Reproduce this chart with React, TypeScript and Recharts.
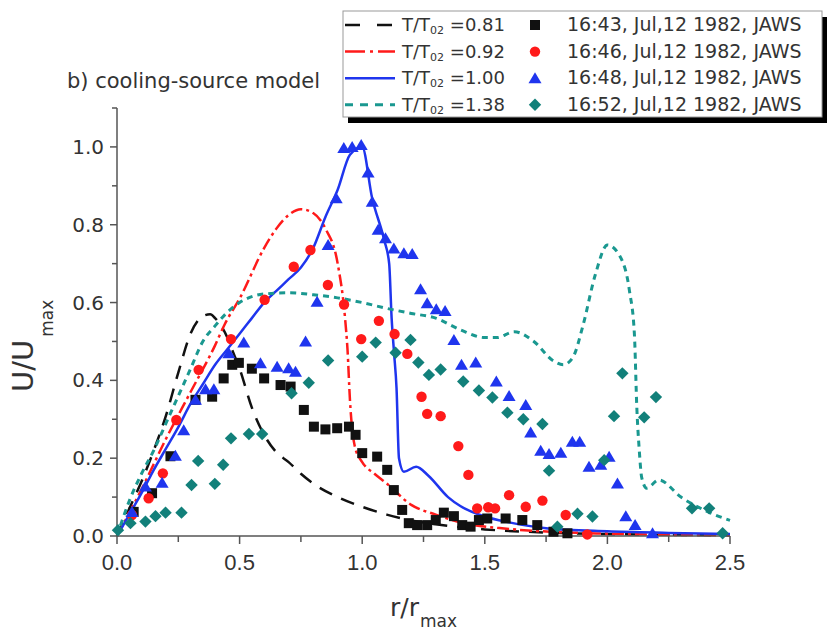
import { ComposedChart, Line, Scatter, XAxis, YAxis } from 'recharts'

const FONT = '"DejaVu Sans", Arial, sans-serif'
const ARIAL = '"Liberation Sans", Arial, sans-serif'
const INK = '#333'

// model curves U/Umax vs r/rmax, one per T/T02
const r081 = [0, 0.05, 0.1, 0.15, 0.2, 0.25, 0.3, 0.35, 0.38, 0.4, 0.45, 0.47, 0.5, 0.55, 0.6, 0.65, 0.7, 0.75, 0.8, 0.9, 1.0, 1.1, 1.2, 1.3, 1.5, 1.75, 2.0, 2.25, 2.5]
const u081 = [0, 0.07, 0.14, 0.22, 0.31, 0.42, 0.52, 0.565, 0.57, 0.56, 0.51, 0.478, 0.43, 0.33, 0.26, 0.215, 0.19, 0.16, 0.135, 0.1, 0.075, 0.055, 0.04, 0.03, 0.017, 0.009, 0.005, 0.003, 0.002]

const r092 = [0, 0.1, 0.2, 0.3, 0.4, 0.44, 0.5, 0.6, 0.65, 0.7, 0.75, 0.8, 0.85, 0.9, 0.93, 0.94, 0.95, 0.97, 1.0, 1.05, 1.1, 1.2, 1.3, 1.4, 1.6, 1.8, 2.0, 2.25, 2.5]
const u092 = [0, 0.12, 0.25, 0.37, 0.49, 0.545, 0.61, 0.74, 0.79, 0.825, 0.84, 0.83, 0.79, 0.7, 0.56, 0.48, 0.35, 0.23, 0.19, 0.16, 0.135, 0.08, 0.055, 0.035, 0.018, 0.01, 0.006, 0.003, 0.002]

const r100 = [0, 0.05, 0.1, 0.15, 0.2, 0.25, 0.3, 0.35, 0.4, 0.45, 0.5, 0.55, 0.6, 0.65, 0.7, 0.75, 0.8, 0.85, 0.9, 0.95, 1.0, 1.04, 1.09, 1.11, 1.12, 1.13, 1.14, 1.15, 1.17, 1.22, 1.27, 1.35, 1.4, 1.5, 1.6, 1.75, 2.0, 2.25, 2.5]
const u100 = [0, 0.055, 0.11, 0.17, 0.225, 0.28, 0.34, 0.39, 0.44, 0.48, 0.52, 0.56, 0.6, 0.63, 0.66, 0.69, 0.74, 0.82, 0.89, 0.98, 1.0, 0.87, 0.76, 0.7, 0.56, 0.47, 0.38, 0.2, 0.165, 0.178, 0.155, 0.1, 0.077, 0.05, 0.035, 0.02, 0.012, 0.008, 0.005]

const r138 = [0, 0.05, 0.1, 0.15, 0.2, 0.25, 0.3, 0.35, 0.4, 0.45, 0.5, 0.6, 0.7, 0.8, 0.9, 1.0, 1.1, 1.2, 1.3, 1.4, 1.5, 1.55, 1.62, 1.7, 1.78, 1.82, 1.86, 1.9, 1.95, 2.0, 2.05, 2.09, 2.11, 2.12, 2.13, 2.14, 2.16, 2.21, 2.3, 2.4, 2.5]
const u138 = [0, 0.09, 0.16, 0.22, 0.29, 0.36, 0.43, 0.5, 0.54, 0.575, 0.6, 0.622, 0.625, 0.62, 0.612, 0.6, 0.585, 0.572, 0.56, 0.53, 0.51, 0.51, 0.525, 0.5, 0.45, 0.44, 0.46, 0.54, 0.67, 0.748, 0.72, 0.63, 0.52, 0.33, 0.22, 0.15, 0.123, 0.144, 0.1, 0.065, 0.04]

// JAWS observations, Jul 12 1982
const r1643 = [0.068, 0.143, 0.218, 0.32, 0.388, 0.435, 0.47, 0.497, 0.55, 0.6, 0.667, 0.708, 0.762, 0.803, 0.85, 0.898, 0.946, 0.973, 1.0, 1.061, 1.102, 1.129, 1.163, 1.19, 1.224, 1.265, 1.3, 1.333, 1.374, 1.408, 1.442, 1.476, 1.51, 1.585, 1.653, 1.714, 1.78, 1.837]
const u1643 = [0.062, 0.11, 0.205, 0.35, 0.358, 0.405, 0.44, 0.445, 0.43, 0.405, 0.388, 0.384, 0.324, 0.281, 0.274, 0.277, 0.281, 0.26, 0.213, 0.204, 0.17, 0.118, 0.067, 0.033, 0.028, 0.028, 0.041, 0.06, 0.051, 0.028, 0.024, 0.041, 0.045, 0.045, 0.041, 0.028, 0.011, 0.007]

const r1646 = [0.061, 0.129, 0.187, 0.242, 0.333, 0.465, 0.602, 0.721, 0.789, 0.86, 0.926, 0.996, 1.068, 1.132, 1.184, 1.242, 1.265, 1.32, 1.392, 1.433, 1.469, 1.514, 1.542, 1.599, 1.667, 1.735, 1.83, 1.918]
const u1646 = [0.054, 0.097, 0.161, 0.298, 0.427, 0.506, 0.607, 0.692, 0.735, 0.645, 0.595, 0.506, 0.553, 0.519, 0.468, 0.358, 0.314, 0.308, 0.231, 0.157, 0.071, 0.074, 0.071, 0.105, 0.075, 0.091, 0.054, 0.004]

const r1648 = [0.061, 0.116, 0.184, 0.238, 0.272, 0.32, 0.361, 0.395, 0.456, 0.517, 0.585, 0.653, 0.7, 0.728, 0.769, 0.816, 0.861, 0.894, 0.925, 0.959, 0.996, 1.024, 1.041, 1.065, 1.095, 1.129, 1.17, 1.204, 1.238, 1.265, 1.302, 1.338, 1.374, 1.405, 1.463, 1.547, 1.599, 1.667, 1.687, 1.728, 1.762, 1.81, 1.857, 1.887, 1.925, 1.973, 2.007, 2.041, 2.075, 2.113, 2.184]
const u1648 = [0.062, 0.127, 0.137, 0.206, 0.272, 0.35, 0.377, 0.377, 0.47, 0.497, 0.444, 0.435, 0.431, 0.422, 0.5, 0.602, 0.748, 0.868, 0.997, 1.0, 1.005, 0.934, 0.859, 0.787, 0.765, 0.739, 0.727, 0.725, 0.634, 0.598, 0.583, 0.578, 0.504, 0.44, 0.446, 0.397, 0.36, 0.337, 0.266, 0.219, 0.211, 0.214, 0.242, 0.242, 0.178, 0.183, 0.204, 0.135, 0.051, 0.028, 0.007]

const r1652 = [0.004, 0.055, 0.116, 0.157, 0.198, 0.263, 0.304, 0.331, 0.399, 0.433, 0.465, 0.538, 0.592, 0.712, 0.782, 0.861, 1.0, 1.055, 1.136, 1.197, 1.229, 1.272, 1.32, 1.412, 1.476, 1.531, 1.592, 1.657, 1.735, 1.762, 1.796, 1.878, 1.939, 1.987, 2.027, 2.061, 2.15, 2.198, 2.345, 2.415, 2.47]
const u1652 = [0.015, 0.033, 0.037, 0.051, 0.06, 0.06, 0.131, 0.193, 0.134, 0.183, 0.251, 0.262, 0.262, 0.367, 0.394, 0.451, 0.461, 0.497, 0.471, 0.504, 0.446, 0.414, 0.428, 0.397, 0.374, 0.356, 0.317, 0.3, 0.288, 0.168, 0.024, 0.057, 0.05, 0.195, 0.308, 0.418, 0.305, 0.357, 0.071, 0.071, 0.007]

const xTicks = [0, 0.25, 0.5, 0.75, 1.0, 1.25, 1.5, 1.75, 2.0, 2.25, 2.5]
const yTicks = [0, 0.1, 0.2, 0.3, 0.4, 0.5, 0.6, 0.7, 0.8, 0.9, 1.0, 1.1]

const zip = (xs: number[], ys: number[]) => xs.map((x, i) => ({ x, y: ys[i] }))

const COLORS = {
    black: '#111111',
    red: '#ff1a1a',
    blue: '#1f35ee',
    teal: '#1a9890',
    tealMark: '#12807a',
}

const Square = ({ cx, cy, fill }: any) => <rect x={cx - 5} y={cy - 5} width={10} height={10} fill={fill} />
const Dot = ({ cx, cy, fill }: any) => <circle cx={cx} cy={cy} r={5.2} fill={fill} />
const Tri = ({ cx, cy, fill }: any) => (
    <polygon points={`${cx},${cy - 6} ${cx - 6.5},${cy + 5} ${cx + 6.5},${cy + 5}`} fill={fill} />
)
const Diamond = ({ cx, cy, fill }: any) => (
    <polygon points={`${cx},${cy - 6.2} ${cx + 6.2},${cy} ${cx},${cy + 6.2} ${cx - 6.2},${cy}`} fill={fill} />
)

const series = [
    { ratio: '0.81', time: '16:43, Jul,12 1982, JAWS', line: zip(r081, u081), pts: zip(r1643, u1643), color: COLORS.black, mark: COLORS.black, dash: '14 10', lgDash: '15 17', width: 2.5, Shape: Square },
    { ratio: '0.92', time: '16:46, Jul,12 1982, JAWS', line: zip(r092, u092), pts: zip(r1646, u1646), color: COLORS.red, mark: COLORS.red, dash: '12 4 3 4', lgDash: '20 5 3 5', width: 2.5, Shape: Dot },
    { ratio: '1.00', time: '16:48, Jul,12 1982, JAWS', line: zip(r100, u100), pts: zip(r1648, u1648), color: COLORS.blue, mark: COLORS.blue, dash: undefined, lgDash: undefined, width: 2.5, Shape: Tri },
    { ratio: '1.38', time: '16:52, Jul,12 1982, JAWS', line: zip(r138, u138), pts: zip(r1652, u1652), color: COLORS.teal, mark: COLORS.tealMark, dash: '6 5', lgDash: '8 7', width: 3, Shape: Diamond },
]

const YTick = ({ x, y, payload }: any) => {
    const v = payload.value
    const major = Math.round(v * 10) % 2 === 0 && v <= 1.0001
    return (
        <g>
            <line x1={x - (major ? 7 : 5)} x2={x} y1={y} y2={y} stroke="#555" strokeWidth={1.5} />
            {major && (
                <text x={x - 13} y={y + 7} textAnchor="end" fontSize={20} fontFamily={FONT} fill={INK}>
                    {v.toFixed(1)}
                </text>
            )}
        </g>
    )
}

const XTick = ({ x, y, payload }: any) => {
    const v = payload.value
    const major = Math.round(v * 100) % 50 === 0
    return (
        <g>
            <line x1={x} x2={x} y1={y} y2={y + (major ? 8 : 6)} stroke="#555" strokeWidth={1.5} />
            {major && (
                <text x={x} y={y + 34} textAnchor="middle" fontSize={22} fontFamily={ARIAL} fill={INK}>
                    {v.toFixed(1)}
                </text>
            )}
        </g>
    )
}

function LegendBox() {
    const left = 343, top = 11, w = 479, h = 106
    return (
        <g fontFamily={FONT} fill={INK}>
            <rect x={left + 5} y={top + 6} width={w} height={h} fill="#000" />
            <rect x={left} y={top} width={w} height={h} fill="#fff" stroke="#999" strokeWidth={1} />
            {series.map((s, i) => {
                const base = 31 + i * 26.6
                const cy = base - 6
                const { Shape } = s
                return (
                    <g key={s.ratio}>
                        <line x1={345} x2={395} y1={cy} y2={cy} stroke={s.color} strokeWidth={s.width} strokeDasharray={s.lgDash} />
                        <text x={402} y={base} fontSize={18}>
                            T/T<tspan fontSize={11} dy={3}>02</tspan><tspan dy={-3}> ={s.ratio}</tspan>
                        </text>
                        <Shape cx={535} cy={cy} fill={s.mark} />
                        <text x={567} y={base} fontSize={19}>{s.time}</text>
                    </g>
                )
            })}
        </g>
    )
}

export default function App() {
    return (
        <div style={{ position: 'absolute', left: 0, top: 0, width: 828, height: 634, background: '#fff' }}>
            <ComposedChart width={828} height={634} margin={{ top: 108, right: 98, bottom: 48, left: 57 }}>
                <XAxis
                    dataKey="x"
                    type="number"
                    domain={[0, 2.5]}
                    ticks={xTicks}
                    interval={0}
                    height={50}
                    tickSize={0}
                    tickMargin={0}
                    tickLine={false}
                    axisLine={{ stroke: '#555', strokeWidth: 1.5 }}
                    tick={<XTick />}
                />
                <YAxis
                    dataKey="y"
                    type="number"
                    domain={[0, 1.1]}
                    ticks={yTicks}
                    interval={0}
                    width={60}
                    tickSize={0}
                    tickMargin={0}
                    tickLine={false}
                    axisLine={{ stroke: '#555', strokeWidth: 1.5 }}
                    tick={<YTick />}
                />
                {series.map((s) => (
                    <Line
                        key={'l' + s.ratio}
                        data={s.line}
                        dataKey="y"
                        type="monotone"
                        stroke={s.color}
                        strokeWidth={s.width}
                        strokeDasharray={s.dash}
                        dot={false}
                        activeDot={false}
                        isAnimationActive={false}
                    />
                ))}
                {series.map((s) => (
                    <Scatter
                        key={'s' + s.ratio}
                        data={s.pts}
                        dataKey="y"
                        fill={s.mark}
                        shape={s.Shape}
                        isAnimationActive={false}
                    />
                ))}
            </ComposedChart>
            <svg width={828} height={634} style={{ position: 'absolute', left: 0, top: 0, pointerEvents: 'none' }}>
                <text x={67} y={88} fontSize={21} fontFamily={FONT} fill={INK}>b) cooling-source model</text>
                <text transform="translate(33,392) rotate(-90)" fontSize={29} fontFamily={FONT} fill={INK}>
                    U/U<tspan dx={3} dy={20} fontSize={17}>max</tspan>
                </text>
                <text x={390} y={616} fontSize={25} fontFamily={FONT} fill={INK}>
                    r/r<tspan dx={1} dy={11} fontSize={17}>max</tspan>
                </text>
                <LegendBox />
            </svg>
        </div>
    )
}
